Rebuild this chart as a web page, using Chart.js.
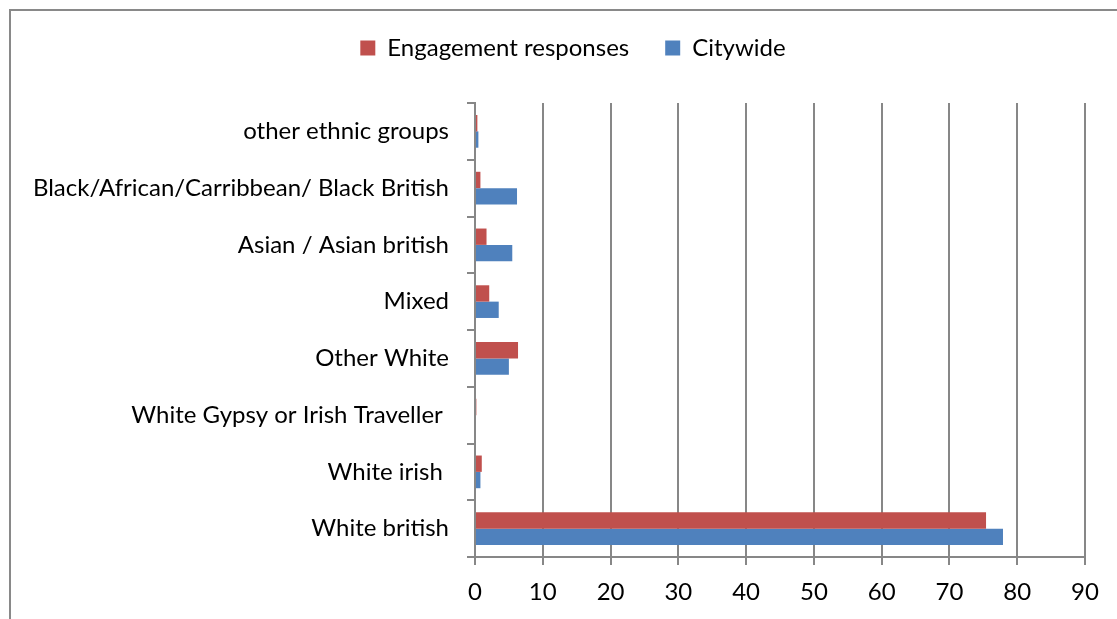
<!DOCTYPE html>
<html>
<head>
<meta charset="utf-8">
<script src="https://cdn.jsdelivr.net/npm/chart.js@4.4.1/dist/chart.umd.min.js"></script>
<style>
  html, body { margin: 0; padding: 0; background: #fff; }
  #wrap { width: 1117px; height: 619px; position: relative; }
</style>
</head>
<body>
<div id="wrap"><canvas id="chart" width="1117" height="619"></canvas></div>
<script>
// Ethnic group categories, listed top to bottom
const categories = [
  'other ethnic groups',
  'Black/African/Carribbean/ Black British',
  'Asian / Asian british',
  'Mixed',
  'Other White',
  'White Gypsy or Irish Traveller ',
  'White irish ',
  'White british'
];

// Percentage of respondents in each group
const engagementResponses = [0.35, 0.8, 1.7, 2.1, 6.35, 0.2, 1.0, 75.4];
// Percentage of the citywide population in each group
const citywide = [0.5, 6.2, 5.5, 3.5, 5.0, 0, 0.8, 77.9];

// Axis ticks along the value axis
const xTicks = [0, 10, 20, 30, 40, 50, 60, 70, 80, 90];

const FONT = 'Lato, "Open Sans", sans-serif';
const FONT_SIZE = 24;
const GRID = '#878787';

// White page with a grey frame along the top and left edges
const framePlugin = {
  id: 'frame',
  beforeDraw(chart) {
    const ctx = chart.ctx;
    ctx.save();
    ctx.fillStyle = '#fff';
    ctx.fillRect(0, 0, chart.width, chart.height);
    ctx.strokeStyle = '#898989';
    ctx.lineWidth = 2;
    ctx.beginPath();
    ctx.moveTo(10, chart.height);
    ctx.lineTo(10, 10);
    ctx.lineTo(chart.width, 10);
    ctx.stroke();
    ctx.restore();
  }
};

// Fixed band above the plot for the legend, with the legend row
// centred slightly right of the page middle
const legendBandPlugin = {
  id: 'legendBand',
  beforeInit(chart) {
    const legend = chart.legend;
    if (!legend) return;
    const fit = legend.fit;
    legend.fit = function () {
      fit.call(this);
      this.height = 103;
    };
    const draw = legend.draw;
    legend.draw = function () {
      const left = this.left;
      this.left = left + 61;
      draw.call(this);
      this.left = left;
    };
  }
};

new Chart(document.getElementById('chart'), {
  type: 'bar',
  data: {
    labels: categories,
    datasets: [
      {
        label: 'Engagement responses',
        data: engagementResponses,
        backgroundColor: '#C0504D',
        borderWidth: 0
      },
      {
        label: 'Citywide',
        data: citywide,
        backgroundColor: '#4F81BD',
        borderWidth: 0
      }
    ]
  },
  plugins: [framePlugin, legendBandPlugin],
  options: {
    indexAxis: 'y',
    responsive: false,
    animation: false,
    devicePixelRatio: 1,
    layout: { padding: { top: 0, right: 32, bottom: 0, left: 0 } },
    datasets: {
      bar: { categoryPercentage: 0.576, barPercentage: 1.0 }
    },
    plugins: {
      legend: {
        position: 'top',
        align: 'center',
        labels: {
          boxWidth: 15,
          boxHeight: 15,
          padding: 36,
          color: '#000',
          font: { family: FONT, size: FONT_SIZE }
        }
      },
      tooltip: { enabled: false }
    },
    scales: {
      x: {
        type: 'linear',
        min: xTicks[0],
        max: xTicks[xTicks.length - 1],
        afterBuildTicks(scale) {
          scale.ticks = xTicks.map(v => ({ value: v }));
        },
        afterFit(scale) { scale.height = 62; },
        grid: {
          color: GRID,
          lineWidth: 2,
          drawTicks: true,
          tickLength: 8,
          tickColor: GRID
        },
        border: { display: true, color: GRID, width: 2 },
        ticks: {
          color: '#000',
          padding: 13,
          font: { family: FONT, size: FONT_SIZE }
        }
      },
      y: {
        afterFit(scale) { scale.width = 475; },
        grid: {
          drawOnChartArea: false,
          drawTicks: true,
          tickLength: 8,
          color: GRID,
          lineWidth: 2
        },
        border: { display: true, color: GRID, width: 2 },
        ticks: {
          color: '#000',
          padding: 18,
          font: { family: FONT, size: FONT_SIZE }
        }
      }
    }
  }
});
</script>
</body>
</html>
